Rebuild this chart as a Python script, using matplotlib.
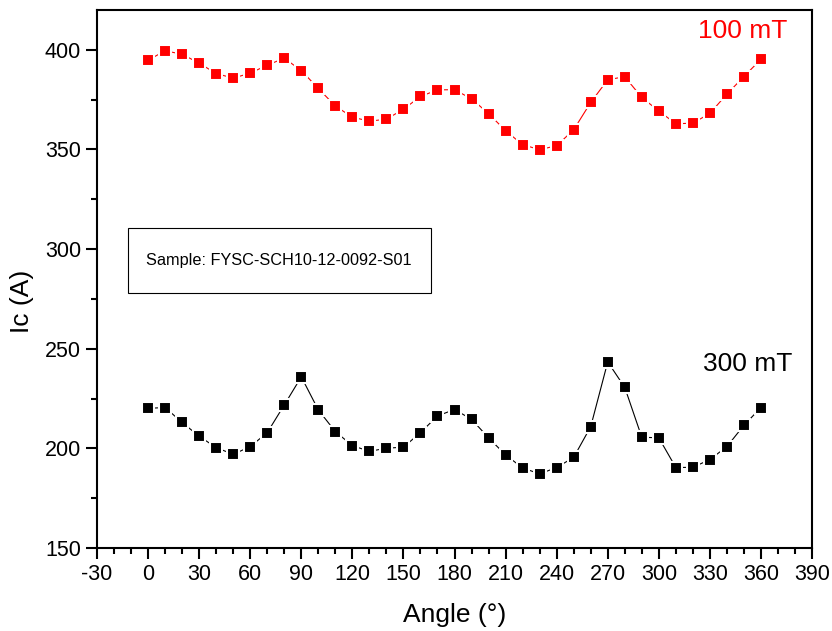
import numpy as np
import matplotlib
matplotlib.use("Agg")
import matplotlib.pyplot as plt
from matplotlib.patches import Rectangle
from matplotlib.ticker import MultipleLocator

plt.rcParams['font.family'] = ['Liberation Sans', 'DejaVu Sans']
plt.rcParams['axes.unicode_minus'] = False

angle = np.arange(0, 361, 10)

ic_100mT = [394.8, 399.5, 397.8, 393.3, 388.1, 385.8, 388.3, 392.3, 395.8, 389.6,
            380.6, 371.8, 366.2, 364.2, 365.2, 370.2, 376.6, 379.9, 380.0, 375.4,
            368.0, 359.4, 352.4, 349.9, 351.9, 359.9, 373.6, 385.0, 386.5, 376.1,
            369.3, 362.9, 363.2, 368.1, 377.8, 386.6, 395.3]

ic_300mT = [220.1, 220.5, 213.0, 206.1, 200.4, 197.0, 200.9, 207.9, 221.8, 235.9,
            219.3, 208.4, 201.4, 198.5, 200.1, 200.6, 207.9, 216.3, 219.5, 214.6,
            205.3, 196.7, 190.2, 187.2, 190.4, 195.5, 210.9, 243.4, 230.6, 205.6,
            205.3, 190.4, 190.5, 194.4, 200.9, 211.6, 220.5]

sample_name = "Sample: FYSC-SCH10-12-0092-S01"

fig = plt.figure(figsize=(8.32, 6.31), dpi=100)
ax = fig.add_axes([0.1166, 0.1315, 0.8594, 0.8527])

ax.plot(angle, ic_100mT, color='red', lw=0.8, marker='s', ms=8.7,
        mfc='red', mec='white', mew=1.5)
ax.plot(angle, ic_300mT, color='black', lw=0.8, marker='s', ms=8.7,
        mfc='black', mec='white', mew=1.5)

ax.set_xlim(-30, 390)
ax.set_ylim(150, 420)
ax.xaxis.set_major_locator(MultipleLocator(30))
ax.xaxis.set_minor_locator(MultipleLocator(10))
ax.yaxis.set_major_locator(MultipleLocator(50))
ax.yaxis.set_minor_locator(MultipleLocator(25))

ax.tick_params(which='both', direction='out', width=1.5, labelsize=15.5)
ax.tick_params(which='major', length=8)
ax.tick_params(which='minor', length=4.5)
for sp in ax.spines.values():
    sp.set_linewidth(1.5)

ax.set_xlabel("Angle (°)", fontsize=19, labelpad=13)
ax.set_ylabel("Ic (A)", fontsize=19)
ax.yaxis.set_label_coords(-0.088, 0.458)

ax.text(0.965, 0.96, "100 mT", color='red', fontsize=19, ha='right', va='center',
        transform=ax.transAxes)
ax.text(0.972, 0.342, "300 mT", color='black', fontsize=19, ha='right', va='center',
        transform=ax.transAxes)

# sample info box
ax.add_patch(Rectangle((0.0434, 0.474), 0.4236, 0.121, transform=ax.transAxes,
                       fc='white', ec='black', lw=0.8, zorder=3))
ax.text(0.2545, 0.534, sample_name, fontsize=11.7, ha='center', va='center',
        transform=ax.transAxes, zorder=4)

fig.savefig("out.png", dpi=100)
